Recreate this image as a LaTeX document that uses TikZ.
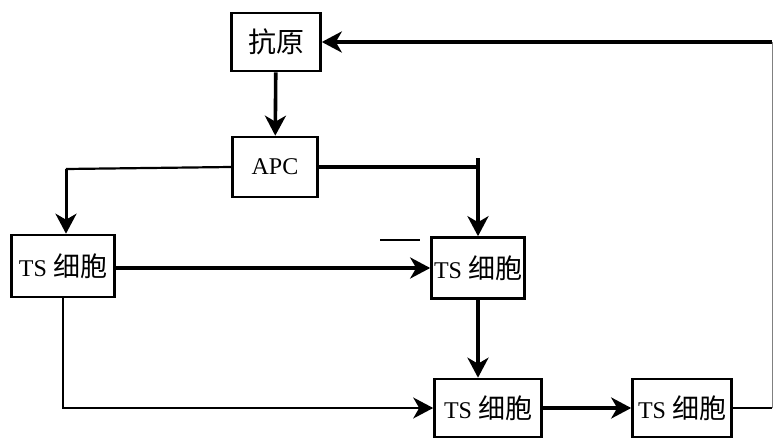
\documentclass[tikz,border=0pt]{standalone}
\usepackage{fontspec}
\setmainfont{Liberation Serif}
\newfontfamily\cjk{Noto Sans CJK SC}
\usetikzlibrary{arrows.meta,positioning}

\begin{document}
\begin{tikzpicture}[x=1pt, y=-1pt,
    box/.style={draw, line width=2.6pt, inner sep=0pt, font=\fontsize{24}{26}\selectfont},
    zh/.style={font=\cjk\fontsize{28}{30}\selectfont},
    link/.style={line width=3.6pt},
    thinlink/.style={line width=2.2pt},
    arr/.style={link, -{Stealth[length=20pt, width=21pt, inset=6pt]}}]
    \useasboundingbox (0,0) rectangle (774,439);

    \node [box, zh, minimum width=89, minimum height=58] (antigen) at (276,42) {抗原};
    \node [box, minimum width=85, minimum height=60] (apc) at (275,167) {APC};
    \node [box, minimum width=103, minimum height=62] (ts_a) at (63,266) {TS \cjk\fontsize{27}{30}\selectfont 细胞};
    \node [box, minimum width=93, minimum height=61] (ts_b) at (478,268) {TS \cjk\fontsize{27}{30}\selectfont 细胞};
    \node [box, minimum width=107, minimum height=58] (ts_c) at (488,408) {TS \cjk\fontsize{27}{30}\selectfont 细胞};
    \node [box, minimum width=99, minimum height=58] (ts_d) at (682,408) {TS \cjk\fontsize{27}{30}\selectfont 细胞};

    \coordinate (bend_l) at (66,169);
    \coordinate (tick) at (478,158);
    \coordinate (corner) at (772,408);
    \coordinate (stray_l) at (380,240);
    \coordinate (stray_r) at (420,240);

    \draw[arr] (antigen) -- (apc);
    \draw[thinlink] (apc.west) -- (bend_l);
    \draw[arr, line width=3pt] (bend_l) -- (bend_l |- ts_a.north);
    \draw[link] (apc.east) -- (tick |- apc.east);
    \draw[arr] (tick) -- (ts_b.north);
    \draw[arr] ([yshift=-2]ts_a.east) -- ([yshift=-2]ts_a.east -| ts_b.west);
    \draw[thinlink, -{Stealth[length=20pt, width=21pt, inset=6pt]}] (ts_a.south) |- (ts_c.west);
    \draw[arr] (ts_b.south) -- (ts_b.south |- ts_c.north);
    \draw[arr] (ts_c.east) -- (ts_d.west);
    \draw[line width=1.8pt] (ts_d.east) -- (corner);
    \draw[line width=1pt, gray] (corner) -- (corner |- antigen);
    \draw[arr] (corner |- antigen) -- (antigen.east);
    \draw[line width=1.4pt] (stray_l) -- (stray_r);
\end{tikzpicture}
\end{document}
